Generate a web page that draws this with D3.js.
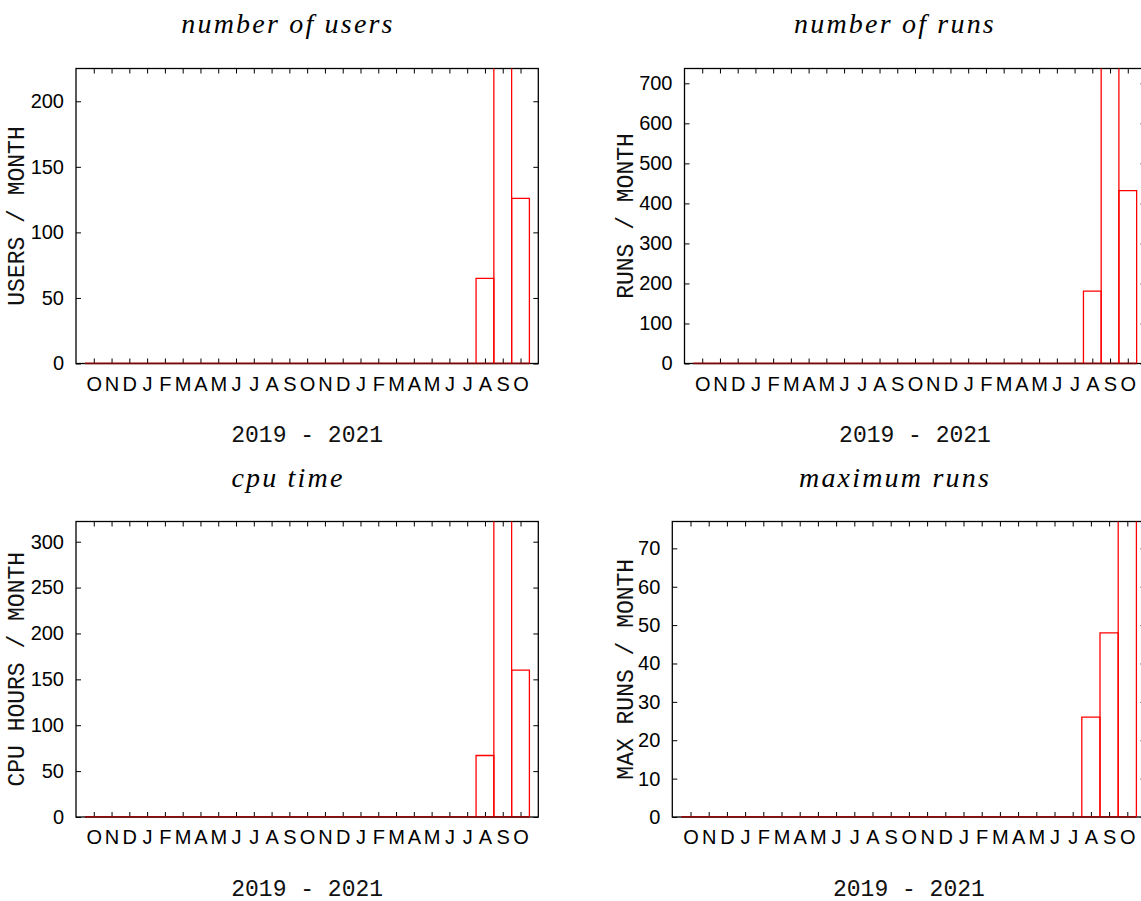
<!DOCTYPE html>
<html><head><meta charset="utf-8">
<script src="https://cdn.jsdelivr.net/npm/d3@7"></script>
<style>body{margin:0;background:#fff}</style>
</head><body>
<svg id="c" width="1141" height="901"></svg>
<script>
// ---- data ----
const months = ["2019-10","2019-11","2019-12","2020-01","2020-02","2020-03","2020-04","2020-05","2020-06","2020-07","2020-08","2020-09","2020-10","2020-11","2020-12","2021-01","2021-02","2021-03","2021-04","2021-05","2021-06","2021-07","2021-08","2021-09","2021-10"];
const monthLabels = ["O","N","D","J","F","M","A","M","J","J","A","S","O","N","D","J","F","M","A","M","J","J","A","S","O"];
const users   = [0,0,0,0,0,0,0,0,0,0,0,0,0,0,0,0,0,0,0,0,0,0,65,240,126];
const runs    = [0,0,0,0,0,0,0,0,0,0,0,0,0,0,0,0,0,0,0,0,0,0,181,800,432];
const cpu     = [0,0,0,0,0,0,0,0,0,0,0,0,0,0,0,0,0,0,0,0,0,0,67,350,160];
const maxRuns = [0,0,0,0,0,0,0,0,0,0,0,0,0,0,0,0,0,0,0,0,0,0,26,48,90];
const titles  = ["number of users","number of runs","cpu time","maximum runs"];
const yLabels = ["USERS / MONTH","RUNS / MONTH","CPU HOURS / MONTH","MAX RUNS / MONTH"];
const yMaxes  = [225, 737, 322, 77];
const yTicksUsers = [0,50,100,150,200];
const yTicksRuns  = [0,100,200,300,400,500,600,700];
const yTicksCpu   = [0,50,100,150,200,250,300];
const yTicksMax   = [0,10,20,30,40,50,60,70];
const xLabel = "2019 - 2021";

// ---- layout ----
const layout = [
  {left:76,    right:538.3,  top:68.5,  bottom:363.5, titleX:288, titleY:33,    ylabX:24},
  {left:684.5, right:1145.5, top:68.5,  bottom:363.5, titleX:895, titleY:33,    ylabX:633},
  {left:76,    right:538.3,  top:521.5, bottom:817,   titleX:288, titleY:486.5, ylabX:24},
  {left:672.3, right:1145.5, top:521.5, bottom:817,   titleX:895, titleY:486.5, ylabX:633}
];
const series = [users, runs, cpu, maxRuns];
const ticks = [yTicksUsers, yTicksRuns, yTicksCpu, yTicksMax];

const svg = d3.select("#c");
svg.append("rect").attr("width",1141).attr("height",901).attr("fill","#fff");
const defs = svg.append("defs");

const sans = "'Liberation Sans', Arial, sans-serif";
const mono = "'Liberation Mono', 'Courier New', monospace";
const serif = "'Liberation Serif', 'Times New Roman', serif";

series.forEach((vals, k) => {
  const p = layout[k];
  const g = svg.append("g");
  const x = d3.scaleLinear().domain([-1, months.length]).range([p.left, p.right]);
  const y = d3.scaleLinear().domain([0, yMaxes[k]]).range([p.bottom, p.top]);

  defs.append("clipPath").attr("id","clip"+k).append("rect")
    .attr("x",p.left).attr("y",p.top).attr("width",p.right-p.left).attr("height",p.bottom-p.top);

  // title
  g.append("text").attr("x",p.titleX).attr("y",p.titleY).attr("text-anchor","middle")
    .attr("font-family",serif).attr("font-style","italic").attr("font-size",28)
    .attr("letter-spacing","2.2px").attr("fill","#000").text(titles[k]);

  // axes
  const styleAxis = sel => {
    sel.select(".domain").remove();
    sel.selectAll("line").attr("stroke","#000").attr("stroke-width",1);
    sel.selectAll("text").attr("font-family",sans).attr("font-size",20).attr("fill","#000");
  };
  g.append("g").attr("transform",`translate(0,${p.bottom})`)
    .call(d3.axisBottom(x).tickValues(d3.range(months.length)).tickFormat(i=>monthLabels[i])
      .tickSizeInner(-5).tickSizeOuter(0).tickPadding(13)).call(styleAxis);
  g.append("g").attr("transform",`translate(0,${p.top})`)
    .call(d3.axisTop(x).tickValues(d3.range(months.length)).tickFormat("")
      .tickSizeInner(-5).tickSizeOuter(0)).call(styleAxis);
  g.append("g").attr("transform",`translate(${p.left},0)`)
    .call(d3.axisLeft(y).tickValues(ticks[k]).tickFormat(d3.format("d"))
      .tickSizeInner(-5).tickSizeOuter(0).tickPadding(12)).call(styleAxis);
  g.append("g").attr("transform",`translate(${p.right},0)`)
    .call(d3.axisRight(y).tickValues(ticks[k]).tickFormat("")
      .tickSizeInner(-5).tickSizeOuter(0)).call(styleAxis);

  // frame
  g.append("rect").attr("x",p.left).attr("y",p.top).attr("width",p.right-p.left).attr("height",p.bottom-p.top)
    .attr("fill","none").attr("stroke","#000").attr("stroke-width",1.3);

  // bars
  g.append("g").attr("clip-path",`url(#clip${k})`).selectAll("path").data(vals).join("path")
    .attr("d",(v,i)=>`M${x(i-0.5)},${y(0)}V${y(v)}H${x(i+0.5)}V${y(0)}Z`)
    .attr("fill","none").attr("stroke","#ff0000").attr("stroke-width",1.3);
  // baseline where zero bars overlap the border
  g.append("line").attr("x1",x(-0.5)).attr("x2",x(vals.length-0.5)).attr("y1",y(0)).attr("y2",y(0))
    .attr("stroke","#7a0a0a").attr("stroke-width",1.4);

  // y label
  g.append("text").attr("transform",`translate(${p.ylabX},${(p.top+p.bottom)/2}) rotate(-90)`)
    .attr("text-anchor","middle").attr("font-family",mono).attr("font-size",23).attr("fill","#111")
    .text(yLabels[k]);
  // x label
  g.append("text").attr("x",(p.left+p.right)/2).attr("y",p.bottom+78.5).attr("text-anchor","middle")
    .attr("font-family",mono).attr("font-size",23).attr("fill","#111").text(xLabel);
});
</script>
</body></html>
